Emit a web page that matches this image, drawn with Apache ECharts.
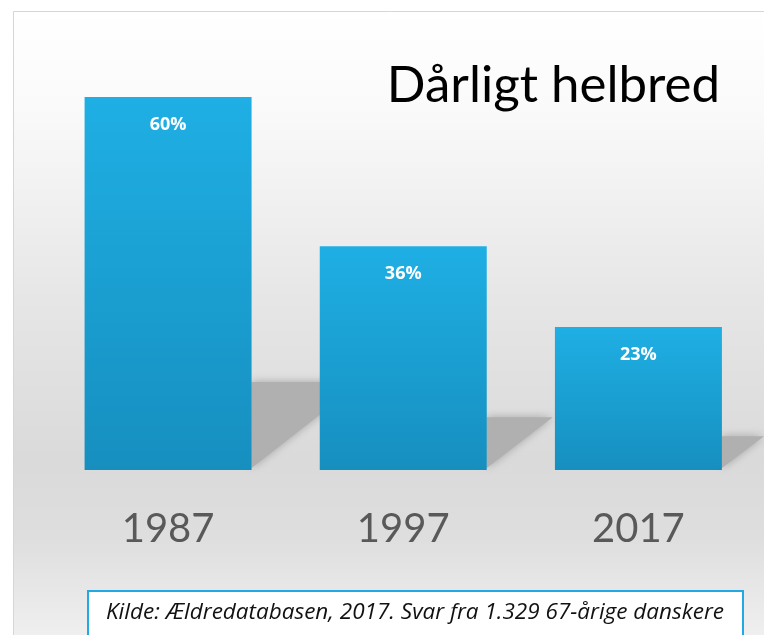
<!doctype html>
<html>
<head>
<meta charset="utf-8">
<style>
  html, body { margin:0; padding:0; background:#fff; }
  #main { width:764px; height:635px; }
</style>
</head>
<body>
<div id="main"></div>
<script src="https://cdn.jsdelivr.net/npm/echarts@6/dist/echarts.min.js"></script>
<script>
var years = ['1987', '1997', '2017'];
var shares = [60, 36, 23];
var titleText = 'Dårligt helbred';
var sourceText = 'Kilde: Ældredatabasen, 2017. Svar fra 1.329 67-årige danskere';

var myChart = echarts.init(document.getElementById('main'));

var barW = 167;

var option = {
  backgroundColor: '#fff',
  animation: false,
  grid: { left: 50.5, right: 8, top: 97, bottom: 165 },
  graphic: [
    {
      type: 'rect', z: -10, silent: true,
      shape: { x: 13.5, y: 11.5, width: 770, height: 640 },
      style: {
        stroke: '#d6d6d6', lineWidth: 1,
        fill: {
          type: 'linear', x: 0, y: 0, x2: 0, y2: 1,
          colorStops: [
            { offset: 0, color: '#ffffff' },
            { offset: 0.15, color: '#fafafa' },
            { offset: 0.45, color: '#e6e6e6' },
            { offset: 0.7, color: '#dadada' },
            { offset: 0.82, color: '#dedede' },
            { offset: 1, color: '#f2f2f2' }
          ]
        }
      }
    },
    {
      type: 'text', right: 44, top: 60,
      style: { text: titleText, font: '51px Lato', fill: '#000' }
    },
    {
      type: 'rect',
      shape: { x: 88, y: 591, width: 655, height: 60 },
      style: { fill: '#fff', stroke: '#22a9e1', lineWidth: 2 }
    },
    {
      type: 'text', left: 106, top: 601,
      style: { text: sourceText, font: 'italic 22.5px "Open Sans"', fill: '#111' }
    }
  ],
  xAxis: {
    type: 'category',
    data: years,
    axisLine: { show: false },
    axisTick: { show: false },
    axisLabel: { color: '#595959', fontSize: 40, fontFamily: 'Lato', margin: 39 }
  },
  yAxis: { type: 'value', min: 0, max: 60, show: false },
  series: [
    {
      type: 'custom',
      z: 1,
      silent: true,
      data: shares.map(function (v, i) { return [i, v]; }),
      renderItem: function (params, api) {
        var base = api.coord([api.value(0), 0]);
        var top = api.coord([api.value(0), api.value(1) * 0.236]);
        var right = base[0] + barW / 2;
        var h = base[1] - top[1];
        return {
          type: 'polygon',
          shape: { points: [[right, top[1]], [right + h * 1.25, top[1]], [right, base[1] - 2]] },
          style: { fill: '#b0b0b0', shadowBlur: 8, shadowColor: 'rgba(150,150,150,0.8)' }
        };
      }
    },
    {
      type: 'bar',
      z: 2,
      data: shares,
      barWidth: barW,
      itemStyle: {
        color: {
          type: 'linear', x: 0, y: 0, x2: 0, y2: 1,
          colorStops: [
            { offset: 0, color: '#1fafe4' },
            { offset: 1, color: '#168fbf' }
          ]
        }
      },
      label: {
        show: true,
        position: 'insideTop',
        distance: 19,
        formatter: '{c}%',
        color: '#fff',
        fontWeight: 'bold',
        fontSize: 18,
        fontFamily: '"Open Sans"'
      }
    }
  ]
};

myChart.setOption(option);
</script>
</body>
</html>
